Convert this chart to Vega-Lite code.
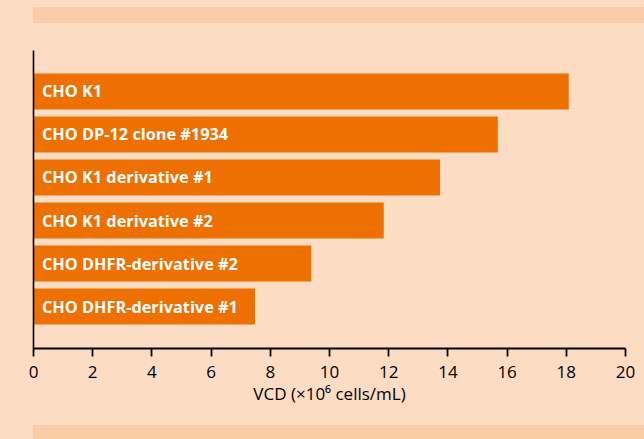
{
  "$schema": "https://vega.github.io/schema/vega-lite/v6.json",
  "background": "#fddcc4",
  "padding": {"left": 0, "top": 7, "right": 0, "bottom": 0},
  "config": {"view": {"stroke": null}, "font": "Open Sans"},
  "spacing": 23,
  "vconcat": [
    {
      "spacing": 27,
      "vconcat": [
        {
          "width": 644,
          "height": 16,
          "view": {"fill": "#fbcda6", "stroke": null},
          "data": {"values": [{"stripe": "top"}]},
          "mark": {"type": "rect", "color": "#fbcda6"}
        },
        {
          "width": 592,
          "height": 298,
          "data": {
            "values": [
              {"name": "CHO K1", "vcd": 18.1},
              {"name": "CHO DP-12 clone #1934", "vcd": 15.7},
              {"name": "CHO K1 derivative #1", "vcd": 13.75},
              {"name": "CHO K1 derivative #2", "vcd": 11.85},
              {"name": "CHO DHFR-derivative #2", "vcd": 9.4},
              {"name": "CHO DHFR-derivative #1", "vcd": 7.5}
            ]
          },
          "encoding": {
            "y": {
              "field": "name",
              "type": "nominal",
              "sort": null,
              "scale": {"paddingInner": 0.163, "paddingOuter": 0.546},
              "axis": {"labels": false, "ticks": false, "title": null, "domainColor": "#000000", "domainWidth": 1.6, "minExtent": 33, "maxExtent": 33, "zindex": 1}
            }
          },
          "layer": [
            {
              "mark": {"type": "bar", "color": "#ee7000"},
              "encoding": {
                "x": {
                  "field": "vcd",
                  "type": "quantitative",
                  "scale": {"domain": [0, 20], "nice": false},
                  "axis": {
                    "values": [0, 2, 4, 6, 8, 10, 12, 14, 16, 18, 20],
                    "grid": false,
                    "labelFlush": false,
                    "tickSize": 8,
                    "tickWidth": 1.8,
                    "tickColor": "#000000",
                    "domainColor": "#000000",
                    "domainWidth": 1.8,
                    "labelColor": "#000000",
                    "labelFontSize": 17,
                    "labelPadding": 8,
                    "title": "VCD (×10⁶ cells/mL)",
                    "titleFontSize": 17,
                    "titleFontWeight": "normal",
                    "titleColor": "#000000",
                    "titlePadding": 6,
                    "zindex": 1
                  }
                }
              }
            },
            {
              "mark": {"type": "text", "align": "left", "baseline": "middle", "dx": 9, "dy": 1, "color": "#ffffff", "fontWeight": "bold", "fontSize": 16.3},
              "encoding": {
                "x": {"datum": 0},
                "text": {"field": "name"}
              }
            }
          ]
        }
      ]
    },
    {
      "width": 644,
      "height": 14,
      "view": {"fill": "#fbcda6", "stroke": null},
      "data": {"values": [{"stripe": "bottom"}]},
      "mark": {"type": "rect", "color": "#fbcda6"}
    }
  ]
}
